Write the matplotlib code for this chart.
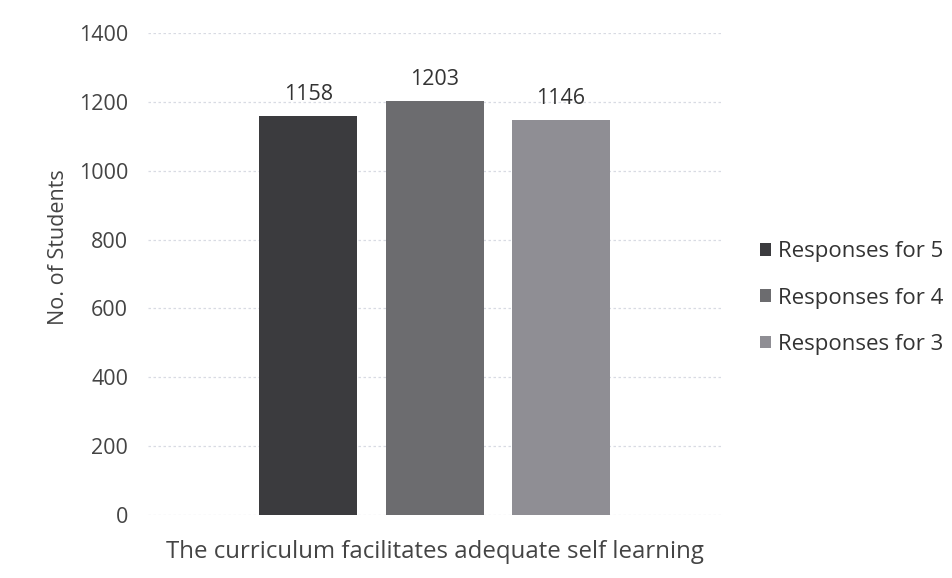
import matplotlib.pyplot as plt

plt.rcParams['font.family'] = ['Open Sans', 'DejaVu Sans']

category = "The curriculum facilitates adequate self learning"
series = ["Responses for 5", "Responses for 4", "Responses for 3"]
values = [1158, 1203, 1146]
colors = ["#3b3b3e", "#6c6c6f", "#8f8e94"]

fig = plt.figure(figsize=(9.52, 5.78), dpi=100)
ax = fig.add_axes([0.155, 0.109, 0.603, 0.834])

offsets = [-0.22, 0.0, 0.22]
width = 0.171
for name, val, col, off in zip(series, values, colors, offsets):
    bars = ax.bar(off, val, width, color=col, label=name, zorder=3)
    ax.bar_label(bars, labels=[str(val)], padding=8, fontsize=15.5, color="#333333")

ax.set_xlim(-0.5, 0.5)
ax.set_ylim(0, 1400)
ax.set_yticks(range(0, 1401, 200))
ax.set_xticks([0])
ax.set_xticklabels([category])
ax.tick_params(axis="both", length=0, labelsize=15.5, colors="#444444")
ax.tick_params(axis="y", pad=14)
ax.tick_params(axis="x", labelsize=17.3, pad=18)
ax.set_ylabel("No. of Students", fontsize=15.5, color="#444444")
ax.yaxis.set_label_coords(-0.136, 0.556)
ax.yaxis.grid(True, color="#d8dbe3", linestyle=(0, (2, 2)), linewidth=0.9, zorder=0)
for s in ax.spines.values():
    s.set_visible(False)

ax.legend(loc="center left", bbox_to_anchor=(1.052, 0.45), frameon=False,
          fontsize=16.0, labelcolor="#333333", handlelength=0.5, handleheight=0.5,
          handletextpad=0.3, labelspacing=1.14, borderaxespad=0.0)

fig.savefig("out.png")
